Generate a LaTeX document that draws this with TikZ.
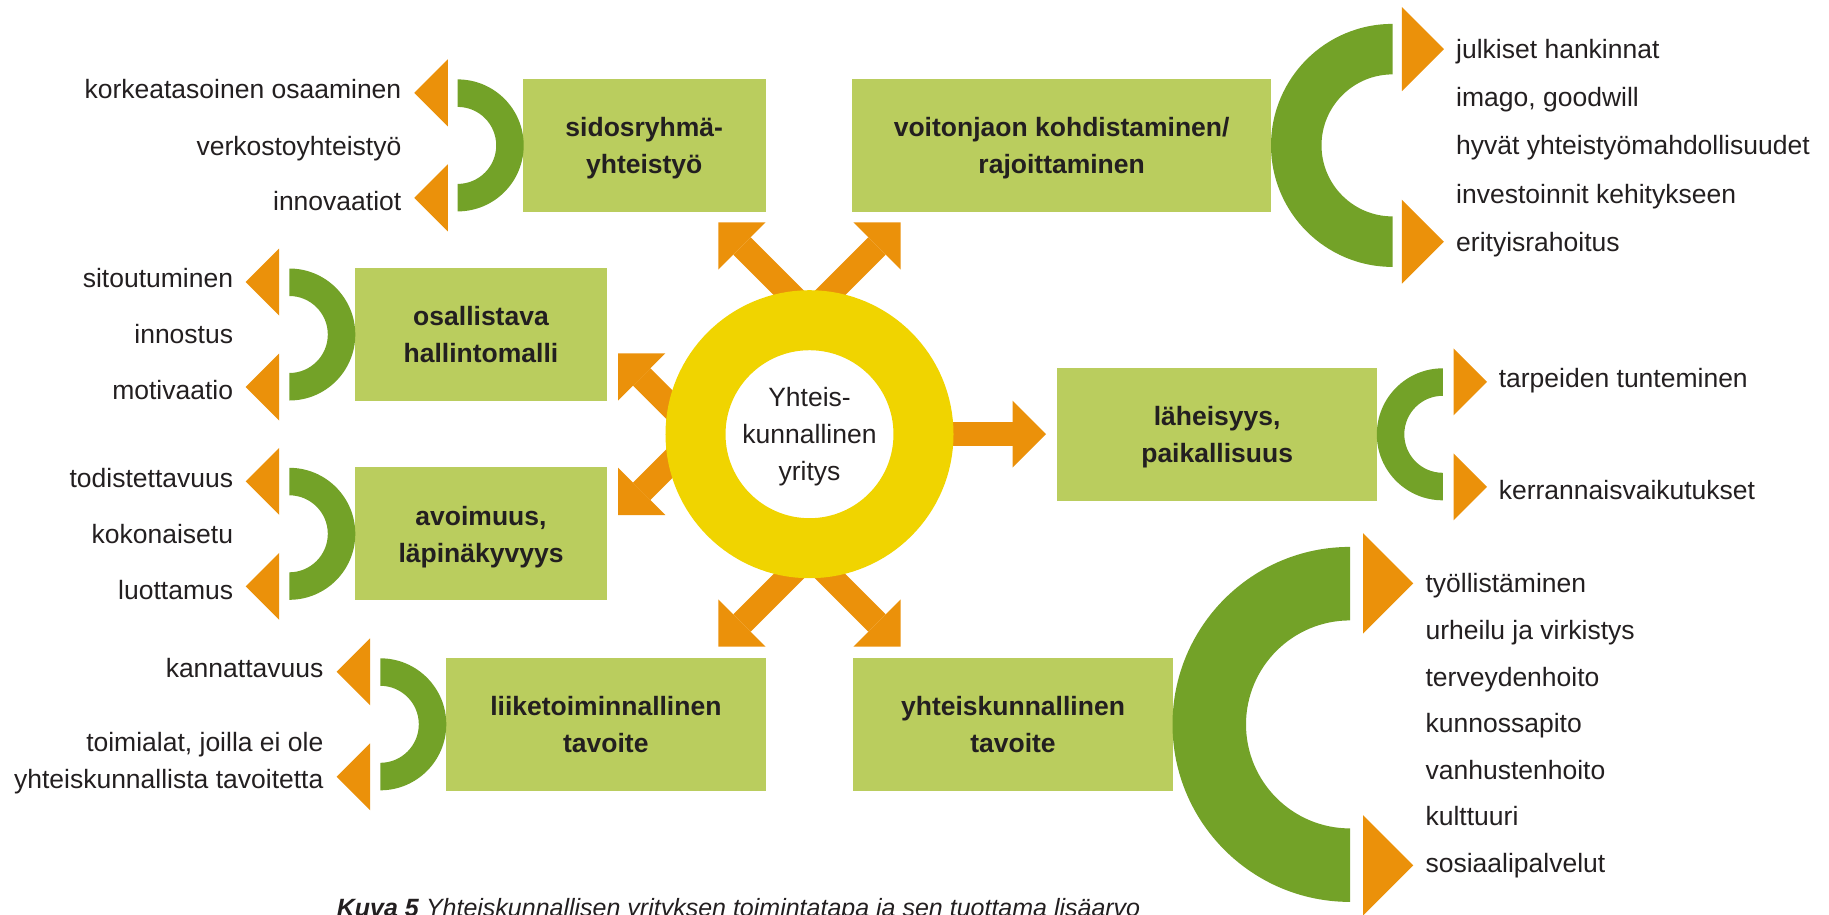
\documentclass[tikz,border=0pt]{standalone}
\usepackage{fontspec}
\setmainfont{Liberation Sans}
\usetikzlibrary{arrows.meta}
\definecolor{boxg}{HTML}{BACD5E}
\definecolor{darkg}{HTML}{73A228}
\definecolor{orng}{HTML}{EB910A}
\definecolor{ringy}{HTML}{F0D400}
\definecolor{txt}{HTML}{231F20}
\newcommand\Cright[4]{\fill[darkg] (#1,#2-#3) arc[start angle=-90,end angle=90,radius=#3] -- (#1,#2+#4) arc[start angle=90,end angle=-90,radius=#4] -- cycle;}
\newcommand\Cleft[4]{\fill[darkg] (#1,#2-#3) arc[start angle=-90,end angle=-270,radius=#3] -- (#1,#2+#4) arc[start angle=-270,end angle=-90,radius=#4] -- cycle;}
\newcommand\triL[3]{\fill[orng] (#1,#2) -- ++(#3,-#3) -- ++(0,2*#3) -- cycle;}
\newcommand\triR[3]{\fill[orng] (#1,#2) -- ++(-#3,-#3) -- ++(0,2*#3) -- cycle;}
\begin{document}
\begin{tikzpicture}[x=1pt,y=-1pt,
  bigarrow/.style={draw=orng, line width=24.5pt, -{Triangle[width=67pt,length=33.5pt,line width=0pt]}},
  box/.style={fill=boxg, minimum height=132.7pt, inner sep=0pt, align=center, text=txt,
    font=\bfseries\fontsize{26.5}{37}\selectfont},
  lbl/.style={font=\fontsize{26.5}{37}\selectfont, text=txt, inner sep=0pt},
  lblL/.style={lbl, anchor=base east},
  lblR/.style={lbl, anchor=base west}]
\useasboundingbox (0,0) rectangle (1829,914);

% arrows from the ring
\coordinate (a1s) at (806.3,310.3); \coordinate (a1e) at (718.3,222.3);
\coordinate (a2s) at (812.7,310.3); \coordinate (a2e) at (900.7,222.3);
\coordinate (a3s) at (806.3,558.7); \coordinate (a3e) at (718.3,646.7);
\coordinate (a4s) at (812.7,558.7); \coordinate (a4e) at (900.7,646.7);
\coordinate (a5s) at (688,423.3);   \coordinate (a5e) at (618,353.3);
\coordinate (a6s) at (688,445);     \coordinate (a6e) at (618,515);
\coordinate (a7s) at (900,434.2);   \coordinate (a7e) at (1046,434.2);
\draw[bigarrow] (a1s) -- (a1e);
\draw[bigarrow] (a2s) -- (a2e);
\draw[bigarrow] (a3s) -- (a3e);
\draw[bigarrow] (a4s) -- (a4e);
\draw[bigarrow] (a5s) -- (a5e);
\draw[bigarrow] (a6s) -- (a6e);
\draw[bigarrow] (a7s) -- (a7e);

% central ring
\node[circle, draw=ringy, line width=60pt, fill=white, minimum size=228pt, inner sep=0pt,
  align=center, text=txt, font=\fontsize{26.5}{37}\selectfont] (ring) at (809.5,434.2)
  {\rule{0pt}{19pt}Yhteis-\\kunnallinen\\\smash{yritys}};

% boxes
\node[box, minimum width=242.5pt] (b1) at (644.25,145.35) {\rule{0pt}{19.5pt}sidosryhmä-\\\smash{yhteistyö}};
\node[box, minimum width=251.4pt] (b2) at (481,334.5) {\rule{0pt}{19.5pt}osallistava\\\smash{hallintomalli}};
\node[box, minimum width=251.4pt] (b3) at (481,533.75) {\rule{0pt}{19.5pt}avoimuus,\\\smash{läpinäkyvyys}};
\node[box, minimum width=319.7pt] (b4) at (605.85,724.35) {\rule{0pt}{19.5pt}liiketoiminnallinen\\\smash{tavoite}};
\node[box, minimum width=418.7pt] (b5) at (1061.65,145.35) {\rule{0pt}{19.5pt}voitonjaon kohdistaminen/\\\smash{rajoittaminen}};
\node[box, minimum width=319.7pt] (b6) at (1217.15,434.25) {\rule{0pt}{19.5pt}läheisyys,\\\smash{paikallisuus}};
\node[box, minimum width=320pt] (b7) at (1013,724.35) {\rule{0pt}{19.5pt}yhteiskunnallinen\\\smash{tavoite}};

% C shapes
\Cright{457.7}{145.4}{66}{38.5}
\Cright{289.3}{334.5}{66}{38.5}
\Cright{289.3}{533.8}{66}{38.5}
\Cright{380.3}{724.3}{66}{38.5}
\Cleft{1392.5}{145.4}{121.5}{71}
\Cleft{1442.8}{434.3}{66}{38.5}
\Cleft{1350}{724.4}{177.5}{104}

% triangles
\triL{414.3}{92.9}{33.5} \triL{414.3}{197.9}{33.5}
\triL{245.7}{282}{33.5} \triL{245.7}{387}{33.5}
\triL{245.7}{481.3}{33.5} \triL{245.7}{586.3}{33.5}
\triL{336.6}{671.8}{33.5} \triL{336.6}{776.8}{33.5}
\triR{1443.9}{49.1}{42} \triR{1443.9}{241.7}{42}
\triR{1487}{381.8}{33.5} \triR{1487}{486.8}{33.5}
\triR{1413.3}{583.4}{50.3} \triR{1413.3}{865.4}{50.3}

% labels left
\node[lblL] (l1) at (401.5,98.3) {korkeatasoinen osaaminen};
\node[lblL] (l2) at (401.5,155) {verkostoyhteistyö};
\node[lblL] (l3) at (401.5,210) {innovaatiot};
\node[lblL] (l4) at (233.3,287.3) {sitoutuminen};
\node[lblL] (l5) at (233.3,343.3) {innostus};
\node[lblL] (l6) at (233.3,399.3) {motivaatio};
\node[lblL] (l7) at (233.3,487.3) {todistettavuus};
\node[lblL] (l8) at (233.3,543.3) {kokonaisetu};
\node[lblL] (l9) at (233.3,599.3) {luottamus};
\node[lblL] (l10) at (323.6,677.3) {kannattavuus};
\node[lblL] (l11) at (323.6,751.7) {toimialat, joilla ei ole};
\node[lblL] (l12) at (323.6,788.3) {yhteiskunnallista tavoitetta};
% labels right
\node[lblR] (r1) at (1456,58.3) {julkiset hankinnat};
\node[lblR] (r2) at (1456,106.7) {imago, goodwill};
\node[lblR] (r3) at (1456,154.3) {hyvät yhteistyömahdollisuudet};
\node[lblR] (r4) at (1456,203.3) {investoinnit kehitykseen};
\node[lblR] (r5) at (1456,251.7) {erityisrahoitus};
\node[lblR] (r6) at (1498.6,387.5) {tarpeiden tunteminen};
\node[lblR] (r7) at (1498.6,499.3) {kerrannaisvaikutukset};
\node[lblR] (r8) at (1425.4,592.9) {työllistäminen};
\node[lblR] (r9) at (1425.4,639.3) {urheilu ja virkistys};
\node[lblR] (r10) at (1425.4,686.4) {terveydenhoito};
\node[lblR] (r11) at (1425.4,732.9) {kunnossapito};
\node[lblR] (r12) at (1425.4,779.6) {vanhustenhoito};
\node[lblR] (r13) at (1425.4,825.7) {kulttuuri};
\node[lblR] (r14) at (1425.4,872.1) {sosiaalipalvelut};

% caption (cut at the bottom edge)
\node[anchor=base west, font=\fontsize{25}{30}\selectfont, text=txt, inner sep=0pt] (cap) at (336.6,916)
  {\textbf{\textit{Kuva 5}} \textit{Yhteiskunnallisen yrityksen toimintatapa ja sen tuottama lisäarvo}};
\end{tikzpicture}
\end{document}
